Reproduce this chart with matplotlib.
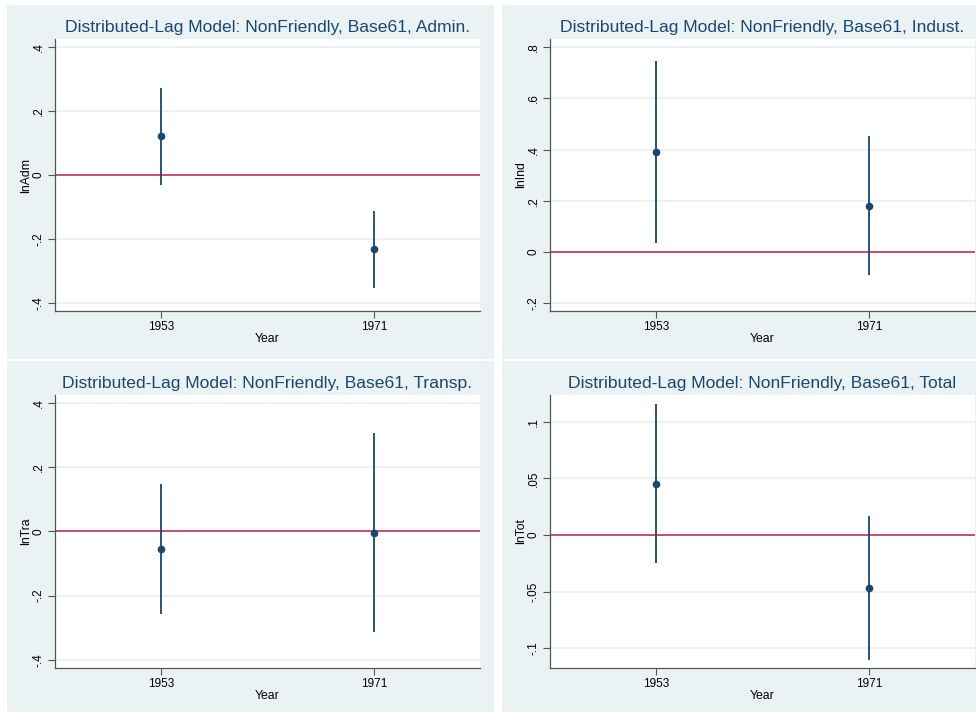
import matplotlib
matplotlib.use("Agg")
import matplotlib.pyplot as plt
from matplotlib.patches import Rectangle

plt.rcParams['font.family'] = ['Liberation Sans', 'DejaVu Sans']

years = [1953, 1971]
year_labels = ["1953", "1971"]

adm_coef = [0.121, -0.232]
adm_lo = [-0.031, -0.352]
adm_hi = [0.271, -0.113]

ind_coef = [0.390, 0.181]
ind_lo = [0.034, -0.091]
ind_hi = [0.746, 0.454]

tra_coef = [-0.054, -0.005]
tra_lo = [-0.257, -0.313]
tra_hi = [0.148, 0.305]

tot_coef = [0.045, -0.047]
tot_lo = [-0.025, -0.110]
tot_hi = [0.116, 0.017]

titles = ["Distributed-Lag Model: NonFriendly, Base61, Admin.",
          "Distributed-Lag Model: NonFriendly, Base61, Indust.",
          "Distributed-Lag Model: NonFriendly, Base61, Transp.",
          "Distributed-Lag Model: NonFriendly, Base61, Total"]
ylabels = ["lnAdm", "lnInd", "lnTra", "lnTot"]

ticks_a = [-0.4, -0.2, 0, 0.2, 0.4]
ticklab_a = ["-.4", "-.2", "0", ".2", ".4"]
ticks_i = [-0.2, 0, 0.2, 0.4, 0.6, 0.8]
ticklab_i = ["-.2", "0", ".2", ".4", ".6", ".8"]
ticks_t = [-0.1, -0.05, 0, 0.05, 0.1]
ticklab_t = ["-.1", "-.05", "0", ".05", ".1"]

W, H = 976, 713
fig = plt.figure(figsize=(W / 100, H / 100), dpi=100)
fig.patch.set_facecolor("white")

BG = "#eaf2f3"
NAVY = "#1a476f"
RED = "#c8405f"

def px_rect(x0, y0, x1, y1):
    return [x0 / W, 1 - y1 / H, (x1 - x0) / W, (y1 - y0) / H]

# panel backgrounds
for (x0, y0, x1, y1) in [(7, 5, 494, 359), (502, 5, 990, 359),
                         (7, 361, 494, 712), (502, 361, 990, 712)]:
    fig.add_artist(Rectangle((x0 / W, 1 - y1 / H), (x1 - x0) / W, (y1 - y0) / H,
                             transform=fig.transFigure, facecolor=BG,
                             edgecolor="none", zorder=-10))

panels = [
    (px_rect(55, 39, 480, 311), adm_coef, adm_lo, adm_hi, (-0.425, 0.425), ticks_a, ticklab_a),
    (px_rect(550, 39, 975, 311), ind_coef, ind_lo, ind_hi, (-0.230, 0.832), ticks_i, ticklab_i),
    (px_rect(55, 395, 480, 667.7), tra_coef, tra_lo, tra_hi, (-0.425, 0.425), ticks_a, ticklab_a),
    (px_rect(550, 395, 975, 667.7), tot_coef, tot_lo, tot_hi, (-0.117, 0.1236), ticks_t, ticklab_t),
]

for i, (rect, coef, lo, hi, ylim, ticks, tlabs) in enumerate(panels):
    ax = fig.add_axes(rect)
    ax.set_zorder(1)
    ax.set_facecolor("white")
    ax.set_xlim(1944, 1980)
    ax.set_ylim(*ylim)
    ax.set_yticks(ticks)
    ax.set_yticklabels(tlabs, rotation=90, va="center")
    ax.set_xticks(years)
    ax.set_xticklabels(year_labels)
    for t in ticks:
        ax.axhline(t, color=BG, lw=1.5, zorder=1)
    ax.axhline(0, color=RED, lw=1.3, zorder=2)
    ax.vlines(years, lo, hi, color=NAVY, lw=1.3, zorder=3)
    ax.plot(years, coef, 'o', color=NAVY, markersize=4.5, zorder=4, linestyle='none')
    for s in ["top", "right"]:
        ax.spines[s].set_visible(False)
    for s in ["left", "bottom"]:
        ax.spines[s].set_color("#555555")
        ax.spines[s].set_linewidth(0.9)
    ax.tick_params(axis="both", colors="#555555", length=5, width=0.8,
                   labelsize=8.5, labelcolor="black", pad=2.5)
    ax.set_xlabel("Year", fontsize=8.8, labelpad=0)
    ax.set_ylabel(ylabels[i], fontsize=8.8)
    ax.yaxis.set_label_coords(-23.0 / 425, 0.5)
    ax.text(0.5, 1 + 11.5 / 272.7, titles[i], transform=ax.transAxes,
            ha="center", va="center", fontsize=12.6, color=NAVY)

fig.savefig("out.png", dpi=100, facecolor=fig.get_facecolor())
